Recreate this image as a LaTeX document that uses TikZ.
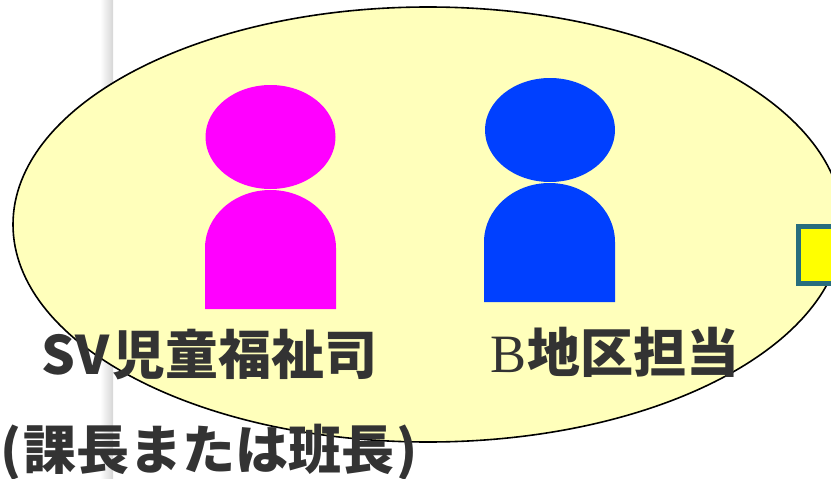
\documentclass[tikz,border=0pt]{standalone}
\usepackage{xcolor}
\usepackage{fontspec}
\usepackage{tikz}
\usetikzlibrary{positioning}
\newfontfamily\cjk[BoldFont={Noto Sans CJK JP Black}]{Noto Sans CJK JP}
\newfontfamily\latinB{Liberation Serif}
\definecolor{headpink}{RGB}{255,0,255}
\definecolor{headblue}{RGB}{0,64,255}
\definecolor{palefill}{RGB}{255,255,187}
\definecolor{boxyellow}{RGB}{255,255,0}
\definecolor{edgeteal}{RGB}{40,110,125}
\definecolor{textgrey}{RGB}{51,51,51}
\tikzset{
  labeltext/.style={text=textgrey, inner sep=0pt, font=\cjk\bfseries\fontsize{53}{56}\selectfont},
}
\begin{document}
\begin{tikzpicture}[x=1pt,y=-1pt]
    \useasboundingbox (0,0) rectangle (831,479);
    \clip (0,0) rectangle (831,479);
    \shade[left color=white, right color=black!16] (100,0) rectangle (113,479);
    \draw[fill=palefill, line width=1.6pt] (428,224.5) ellipse [x radius=415, y radius=217.5];
    % left person
    \fill[headpink] (270.5,137) ellipse [x radius=65, y radius=52];
    \fill[headpink] (205,309) -- (205,248) arc [start angle=180, end angle=0, x radius=65.5, y radius=-58] -- (336,309) -- cycle;
    % right person
    \fill[headblue] (550,130) ellipse [x radius=65, y radius=52];
    \fill[headblue] (484,302) -- (484,242) arc [start angle=180, end angle=0, x radius=65.5, y radius=-59] -- (615,302) -- cycle;
    % box on the edge
    \draw[fill=boxyellow, draw=edgeteal, line width=5pt] (798.5,226.5) rectangle (850,283.5);
    \node[labeltext, anchor=base west] (sv) at (41,374) {SV\hspace{3pt}児童福祉司};
    \node[labeltext, anchor=base west] (district) at (490,372) {{\latinB\mdseries\fontsize{54}{56}\selectfont B}\hspace{1pt}地区担当};
    \node[labeltext, anchor=base west] (chief) at (0,469) {(\hspace{2pt}課長または班長\hspace{2pt})};
\end{tikzpicture}
\end{document}
